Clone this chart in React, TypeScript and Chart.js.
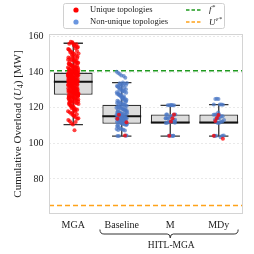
import React, { useEffect, useRef } from "react";
import { Chart, registerables } from "chart.js";

Chart.register(...registerables);

const categories = ["MGA", "Baseline", "M", "MDy"];
const groupLabel = "HITL-MGA";
const yTicks = [80, 100, 120, 140, 160];
const yMin = 60.3;
const yMax = 161.5;

// box statistics
const whiskerLow = [110.5, 104.1, 104.1, 104.1];
const q1 = [127.3, 111.0, 111.2, 111.2];
const median = [134.7, 115.3, 111.7, 111.7];
const q3 = [139.8, 121.7, 116.2, 116.2];
const whiskerHigh = [156.3, 134.2, 121.4, 121.8];

// reference lines
const fStar = 140.8;
const uEpsStar = 65.1;

// unique topologies (red)
const uniqueMGA = [
  107.4, 110.6, 111.3, 112.5, 113.1, 113.9, 114.6, 115.2, 116.0, 116.7, 117.5, 118.1, 118.9, 119.4, 120.1, 120.6,
  121.2, 121.7, 122.1, 122.6, 122.9, 123.4, 123.8, 124.0, 124.4, 124.7, 125.0, 125.3, 125.5, 125.9, 126.1, 126.3,
  126.6, 126.8, 127.0, 127.2, 119.8, 123.2, 125.7, 126.9,
  127.4, 127.7, 127.9, 128.3, 128.5, 128.9, 129.1, 129.4, 129.8, 130.1, 130.3, 130.7, 130.9, 131.2, 131.6, 131.9,
  132.1, 132.4, 132.8, 133.0, 133.3, 133.7, 133.9, 134.2, 134.5, 134.6, 128.1, 129.6, 130.5, 131.4, 132.6, 133.5,
  134.0, 127.6, 128.7, 130.0, 131.1, 132.3, 133.1, 134.4,
  134.8, 135.0, 135.2, 135.5, 135.7, 135.9, 136.1, 136.4, 136.6, 136.9, 137.1, 137.3, 137.6, 137.8, 138.0, 138.3,
  138.5, 138.8, 139.0, 139.2, 139.5, 139.7, 135.3, 136.2, 136.8, 137.4, 138.1, 138.7, 139.3, 139.6, 135.6, 136.5,
  137.0, 137.9, 138.4, 139.1, 134.9, 136.0, 137.7, 138.9,
  139.9, 140.2, 140.5, 140.8, 141.0, 141.3, 141.7, 142.0, 142.4, 142.8, 143.1, 143.5, 143.9, 144.3, 144.8, 145.2,
  145.7, 146.1, 146.6, 147.2, 147.8, 148.3, 148.9, 149.5, 150.2, 150.8, 151.5, 152.3, 153.1, 153.9, 154.6, 155.4,
  156.3, 140.6, 141.5, 142.6, 143.7, 145.0, 146.9, 149.1, 157.2, 156.0,
  114.2, 116.4, 117.9, 119.1, 120.4, 121.5, 122.4, 123.6, 124.2, 124.9, 125.6, 126.2, 126.7, 127.1, 127.5, 127.8,
  128.2, 128.6, 129.0, 129.3, 129.7, 130.2, 130.6, 131.0, 131.3, 131.8, 132.2, 132.5, 132.9, 133.2, 133.6, 134.1,
  134.3, 134.7, 135.1, 135.4, 135.8, 136.3, 136.7, 137.2, 137.5, 138.2, 138.6, 139.4, 139.8, 140.1, 140.4, 140.9,
  141.2, 141.8, 142.2, 142.7, 143.3, 144.0, 144.6, 145.4, 146.3, 147.5, 148.6, 150.0, 151.1, 152.8, 154.2, 155.8,
  118.6, 121.0, 123.0, 124.6, 125.2, 126.5, 128.4, 129.9, 131.7, 133.4, 135.4, 136.7, 138.2, 139.5, 141.1, 143.0,
  144.1, 145.9, 147.0, 148.0, 112.0, 115.7, 117.2, 120.9, 122.8, 150.5, 152.0, 153.5, 155.0, 156.8,
];
const uniqueBaseline = [116.1, 113.8, 111.9, 104.5];
const uniqueM = [116.2, 114.2, 112.3, 104.3];
const uniqueMDy = [116.0, 114.3, 112.6, 104.3, 102.6];

// non-unique topologies (blue)
const nonUniqueMGA: number[] = [];
const nonUniqueBaseline = [
  104.1, 104.2, 104.4, 107.3, 107.6, 107.9, 108.4, 109.2, 109.8, 110.3, 110.6, 110.9, 111.2, 111.5, 111.8, 112.0,
  112.3, 112.6, 112.9, 113.1, 113.4, 113.7, 114.0, 114.2, 114.5, 114.8, 115.0, 115.3, 115.6, 115.9, 116.1, 116.4,
  116.8, 117.1, 117.5, 117.9, 118.2, 118.6, 119.0, 119.4, 119.8, 120.3, 120.7, 121.1, 121.5, 121.9, 122.4, 122.9,
  123.5, 124.0, 124.6, 125.1, 125.7, 126.2, 126.8, 127.3, 127.9, 128.4, 129.0, 129.6, 130.2, 130.9, 131.5, 132.2,
  132.8, 133.5, 134.2, 138.2, 139.0, 139.6, 140.3, 111.4, 112.8, 113.9, 115.1, 116.6, 118.9, 120.0, 123.2, 126.5,
  129.3, 131.9, 133.0,
  110.1, 110.8, 111.1, 111.7, 112.1, 112.5, 113.0, 113.5, 114.1, 114.6, 115.2, 115.7, 116.3, 116.9, 117.3, 117.8,
  118.4, 119.2, 120.5, 121.3, 122.1, 122.7, 123.8, 124.3, 125.4, 126.0, 127.1, 128.0, 128.8, 130.5, 131.2, 132.5,
  133.3, 133.8, 107.5, 108.1, 104.3, 112.4, 113.3, 114.4, 115.4, 116.2, 117.0, 119.6, 121.7, 124.8, 127.6, 130.0,
  132.0, 134.0, 136.9, 137.9,
];
const nonUniqueM = [
  121.4, 121.5, 121.6, 121.4, 121.5, 116.2, 116.3, 116.1, 115.3, 115.2, 114.3, 114.2, 114.1, 113.3, 113.2, 112.3,
  112.2, 112.1, 111.6, 111.5, 111.6, 104.3, 104.2, 104.4, 104.3, 116.2, 114.2, 112.2, 104.3, 121.5,
];
const nonUniqueMDy = [
  125.0, 125.1, 124.9, 121.8, 121.7, 121.9, 121.8, 117.4, 116.3, 116.2, 116.1, 115.3, 115.2, 114.3, 114.2, 114.1,
  113.3, 113.2, 112.3, 112.2, 111.6, 111.5, 104.3, 104.2, 104.4, 104.3, 103.4, 116.2, 114.2, 112.2, 104.3,
];

const uniqueByCat = [uniqueMGA, uniqueBaseline, uniqueM, uniqueMDy];
const nonUniqueByCat = [nonUniqueMGA, nonUniqueBaseline, nonUniqueM, nonUniqueMDy];

const RED = "rgba(255,0,0,0.75)";
const BLUE = "rgba(76,120,196,0.7)";
const GREEN = "#1f9a1f";
const ORANGE = "#ffa31a";
const SERIF = "'Liberation Serif', 'DejaVu Serif', serif";

function jitter(i: number) {
  return ((((i + 1) * 0.6180339887) % 1) - 0.5) * 0.22;
}

function stripPoints(byCat: number[][]) {
  const pts: { x: number; y: number }[] = [];
  byCat.forEach((vals, c) => vals.forEach((v, i) => pts.push({ x: c + jitter(i * 3 + c), y: v })));
  return pts;
}

const overlayPlugin = {
  id: "overlay",
  afterDatasetDraw(chart: any, args: any) {
    if (args.index !== 0) return;
    const { ctx } = chart;
    const xs = chart.scales.x;
    const ys = chart.scales.y;
    const meta = chart.getDatasetMeta(0);
    ctx.save();
    categories.forEach((_, i) => {
      const bar = meta.data[i];
      const cx = xs.getPixelForValue(i);
      const half = bar ? bar.width / 2 : 19;
      ctx.strokeStyle = "#333";
      ctx.lineWidth = 1.3;
      ctx.beginPath();
      ctx.moveTo(cx, ys.getPixelForValue(q3[i]));
      ctx.lineTo(cx, ys.getPixelForValue(whiskerHigh[i]));
      ctx.moveTo(cx, ys.getPixelForValue(q1[i]));
      ctx.lineTo(cx, ys.getPixelForValue(whiskerLow[i]));
      ctx.moveTo(cx - half / 2, ys.getPixelForValue(whiskerHigh[i]));
      ctx.lineTo(cx + half / 2, ys.getPixelForValue(whiskerHigh[i]));
      ctx.moveTo(cx - half / 2, ys.getPixelForValue(whiskerLow[i]));
      ctx.lineTo(cx + half / 2, ys.getPixelForValue(whiskerLow[i]));
      ctx.stroke();
      ctx.strokeStyle = "#111";
      ctx.lineWidth = 2;
      ctx.beginPath();
      ctx.moveTo(cx - half, ys.getPixelForValue(median[i]));
      ctx.lineTo(cx + half, ys.getPixelForValue(median[i]));
      ctx.stroke();
    });
    ctx.restore();
  },
  afterDraw(chart: any) {
    const { ctx, chartArea } = chart;
    const xs = chart.scales.x;
    ctx.save();
    // plot frame
    ctx.strokeStyle = "#d4d4d4";
    ctx.lineWidth = 1;
    ctx.strokeRect(chartArea.left + 0.5, chartArea.top + 0.5, chartArea.width - 1, chartArea.height - 1);

    // y axis title with italic U and subscript
    ctx.translate(18.5, (chartArea.top + chartArea.bottom) / 2);
    ctx.rotate(-Math.PI / 2);
    ctx.fillStyle = "#222";
    ctx.textBaseline = "middle";
    ctx.textAlign = "left";
    const segs = [
      { t: "Cumulative Overload (", f: `11px ${SERIF}`, dy: 0 },
      { t: "U", f: `italic 11px ${SERIF}`, dy: 0 },
      { t: "4", f: `8px ${SERIF}`, dy: 2.5 },
      { t: ") [MW]", f: `11px ${SERIF}`, dy: 0 },
    ];
    let total = 0;
    segs.forEach((s) => {
      ctx.font = s.f;
      total += ctx.measureText(s.t).width;
    });
    let px = -total / 2;
    segs.forEach((s) => {
      ctx.font = s.f;
      ctx.fillText(s.t, px, s.dy);
      px += ctx.measureText(s.t).width;
    });
    ctx.setTransform(1, 0, 0, 1, 0, 0);

    // legend
    ctx.beginPath();
    const lx = 63.5, ly = 3.5, lw = 161, lh = 25, r = 2;
    ctx.moveTo(lx + r, ly);
    ctx.arcTo(lx + lw, ly, lx + lw, ly + lh, r);
    ctx.arcTo(lx + lw, ly + lh, lx, ly + lh, r);
    ctx.arcTo(lx, ly + lh, lx, ly, r);
    ctx.arcTo(lx, ly, lx + lw, ly, r);
    ctx.closePath();
    ctx.fillStyle = "rgba(255,255,255,0.85)";
    ctx.fill();
    ctx.strokeStyle = "#d0d0d0";
    ctx.lineWidth = 1;
    ctx.stroke();

    ctx.fillStyle = "#ff0000";
    ctx.beginPath();
    ctx.arc(76, 10, 2.6, 0, Math.PI * 2);
    ctx.fill();
    ctx.fillStyle = "#6a96e0";
    ctx.beginPath();
    ctx.arc(76, 22, 2.6, 0, Math.PI * 2);
    ctx.fill();

    ctx.fillStyle = "#222";
    ctx.font = `8.5px ${SERIF}`;
    ctx.textBaseline = "middle";
    ctx.textAlign = "left";
    ctx.fillText("Unique topologies", 90, 10);
    ctx.fillText("Non-unique topologies", 90, 22);

    ctx.lineWidth = 1.5;
    ctx.setLineDash([3.5, 2]);
    ctx.strokeStyle = GREEN;
    ctx.beginPath();
    ctx.moveTo(186, 10);
    ctx.lineTo(201, 10);
    ctx.stroke();
    ctx.strokeStyle = ORANGE;
    ctx.beginPath();
    ctx.moveTo(186, 22);
    ctx.lineTo(201, 22);
    ctx.stroke();
    ctx.setLineDash([]);

    ctx.fillStyle = "#222";
    ctx.font = `italic 9px ${SERIF}`;
    ctx.fillText("f", 209, 10);
    let w = ctx.measureText("f").width;
    ctx.font = `6.5px ${SERIF}`;
    ctx.fillText("*", 209 + w + 0.8, 7.5);
    ctx.font = `italic 9px ${SERIF}`;
    ctx.fillText("U", 209, 22.5);
    w = ctx.measureText("U").width;
    ctx.font = `italic 6.5px ${SERIF}`;
    ctx.fillText("ε*", 209 + w + 0.6, 19);

    // group brace
    const left = xs.getPixelForValue(0.55);
    const right = xs.getPixelForValue(3.4);
    const mid = xs.getPixelForValue(2);
    const yTop = 229.5, yMid = 234, yTip = 238;
    ctx.strokeStyle = "#333";
    ctx.lineWidth = 1;
    ctx.beginPath();
    ctx.moveTo(left, yTop);
    ctx.quadraticCurveTo(left, yMid, left + 4, yMid);
    ctx.lineTo(mid - 3, yMid);
    ctx.quadraticCurveTo(mid, yMid, mid, yTip);
    ctx.quadraticCurveTo(mid, yMid, mid + 3, yMid);
    ctx.lineTo(right - 4, yMid);
    ctx.quadraticCurveTo(right, yMid, right, yTop);
    ctx.stroke();

    ctx.fillStyle = "#222";
    ctx.font = `9.5px ${SERIF}`;
    ctx.textAlign = "center";
    ctx.textBaseline = "middle";
    ctx.fillText(groupLabel, mid + 1, 245.5);
    ctx.restore();
  },
};

export default function App() {
  const ref = useRef<HTMLCanvasElement | null>(null);
  useEffect(() => {
    document.body.style.margin = "0";
    if (!ref.current) return;
    Chart.defaults.font.family = SERIF;
    const chart = new Chart(ref.current, {
      type: "bar",
      data: {
        datasets: [
          {
            type: "bar",
            label: "box",
            data: categories.map((_, i) => ({ x: i, y: [q1[i], q3[i]] })) as any,
            backgroundColor: "#dcdcdc",
            borderColor: "#333",
            borderWidth: 1.3,
            borderSkipped: false,
            categoryPercentage: 1,
            barPercentage: 0.8,
            order: 4,
          } as any,
          {
            type: "line",
            label: "f*",
            data: [
              { x: -0.5, y: fStar },
              { x: 3.5, y: fStar },
            ],
            borderColor: GREEN,
            borderWidth: 1.5,
            borderDash: [5, 3],
            pointRadius: 0,
            order: 3,
          } as any,
          {
            type: "line",
            label: "U*",
            data: [
              { x: -0.5, y: uEpsStar },
              { x: 3.5, y: uEpsStar },
            ],
            borderColor: ORANGE,
            borderWidth: 1.5,
            borderDash: [5, 3],
            pointRadius: 0,
            order: 3,
          } as any,
          {
            type: "scatter",
            label: "Non-unique topologies",
            data: stripPoints(nonUniqueByCat),
            backgroundColor: BLUE,
            borderWidth: 0,
            pointRadius: 2,
            showLine: false,
            order: 2,
          } as any,
          {
            type: "scatter",
            label: "Unique topologies",
            data: stripPoints(uniqueByCat),
            backgroundColor: RED,
            borderWidth: 0,
            pointRadius: 2,
            showLine: false,
            order: 1,
          } as any,
        ],
      },
      options: {
        responsive: false,
        animation: false,
        events: [],
        layout: { padding: { top: 34, right: 11, left: 0, bottom: 0 } },
        plugins: { legend: { display: false }, tooltip: { enabled: false } },
        scales: {
          x: {
            type: "linear",
            min: -0.5,
            max: 3.5,
            offset: false,
            grid: { display: false, drawTicks: false },
            border: { display: false },
            afterBuildTicks: (s: any) => {
              s.ticks = categories.map((_, i) => ({ value: i }));
            },
            afterFit: (s: any) => {
              s.height = 40;
            },
            ticks: {
              padding: 5,
              color: "#222",
              font: { size: 10, family: SERIF },
              maxRotation: 0,
              autoSkip: false,
              callback: (v: any) => categories[v as number] ?? "",
            },
          },
          y: {
            type: "linear",
            min: yMin,
            max: yMax,
            grid: { color: "#e4e4e4", lineWidth: 0.8, drawTicks: false },
            border: { display: false, dash: [2, 2] },
            afterBuildTicks: (s: any) => {
              s.ticks = yTicks.map((v) => ({ value: v }));
            },
            afterFit: (s: any) => {
              s.width = 49;
            },
            ticks: {
              padding: 5.5,
              color: "#222",
              font: { size: 10, family: SERIF },
            },
          },
        },
      },
      plugins: [overlayPlugin],
    });
    return () => chart.destroy();
  }, []);
  return (
    <div style={{ width: 254, height: 254 }}>
      <canvas ref={ref} width={254} height={254} style={{ width: 254, height: 254, display: "block" }} />
    </div>
  );
}
